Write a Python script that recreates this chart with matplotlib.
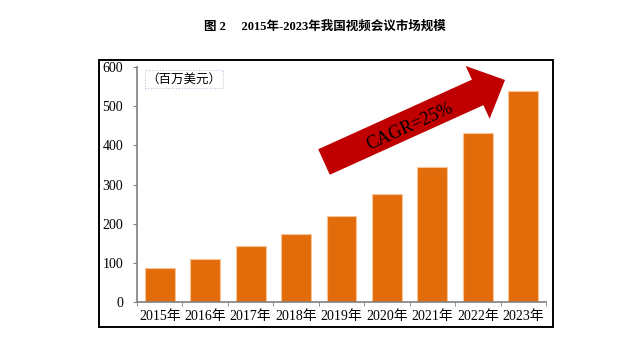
import matplotlib

matplotlib.use("Agg")
import matplotlib.pyplot as plt
from matplotlib.patches import FancyArrow, Rectangle
from matplotlib.transforms import IdentityTransform

plt.rcParams["font.family"] = ["Liberation Serif", "Noto Sans CJK SC", "DejaVu Sans"]

years = ["2015年", "2016年", "2017年", "2018年", "2019年", "2020年", "2021年", "2022年", "2023年"]
market = [87, 110, 143, 173, 219, 275, 344, 431, 538]
y_ticks = [0, 100, 200, 300, 400, 500, 600]
title = "图 2\u3000 2015年-2023年我国视频会议市场规模"
unit = "（百万美元）"
cagr = "CAGR=25%"

W, H = 643, 353
fig = plt.figure(figsize=(W / 100, H / 100), dpi=100)

# outer frame
fig.patches.append(Rectangle((99 / W, 1 - 327 / H), 454 / W, 267 / H,
                             transform=fig.transFigure, fill=False,
                             edgecolor="black", linewidth=1.4))

ax = fig.add_axes([137 / W, 1 - 302 / H, 409 / W, 235 / H])
xs = list(range(len(years)))
ax.bar(xs, market, width=0.66, color="#E36C0A", edgecolor="#F6C39A", linewidth=0.8, zorder=2)
ax.set_xlim(-0.5, len(years) - 0.5)
ax.set_ylim(0, 600)
ax.set_yticks(y_ticks)
ax.set_yticklabels([str(v) for v in y_ticks], fontsize=10)
ax.set_xticks(xs)
ax.set_xticklabels(years, fontsize=10)
ax.set_xticks([x + 0.5 for x in xs[:-1]] + [-0.5, len(years) - 0.5], minor=True)
ax.tick_params(axis="x", which="major", length=0, pad=6)
ax.tick_params(axis="x", which="minor", length=3, color="#808080", direction="out")
ax.tick_params(axis="y", length=3, color="#808080", pad=7)
for side in ("top", "right"):
    ax.spines[side].set_visible(False)
for side in ("left", "bottom"):
    ax.spines[side].set_color("#808080")
    ax.spines[side].set_linewidth(1.2)

# unit label with dotted box
fig.patches.append(Rectangle((145 / W, 1 - 88 / H), 78 / W, 18 / H,
                             transform=fig.transFigure, fill=False,
                             edgecolor="#B8C8E0", linewidth=0.8, linestyle=(0, (1, 1.5))))
fig.text(184 / W, 1 - 79 / H, unit, ha="center", va="center", fontsize=9,
         family=["Noto Sans CJK SC", "DejaVu Sans"])

# CAGR arrow (display pixels)
arrow = FancyArrow(324, H - 162, 181, 82, width=28, head_width=58, head_length=30,
                   length_includes_head=True, color="#C00000", linewidth=0,
                   transform=IdentityTransform())
fig.patches.append(arrow)
fig.text(410 / W, 1 - 127 / H, cagr, ha="center", va="center", rotation=24.4,
         fontsize=13, family="Liberation Serif", color="black")

fig.text(325 / W, 1 - 27 / H, title, ha="center", va="center", fontsize=9,
         fontweight="bold", family=["Liberation Serif", "Noto Sans CJK SC", "DejaVu Sans"])

fig.savefig("out.png", dpi=100)
